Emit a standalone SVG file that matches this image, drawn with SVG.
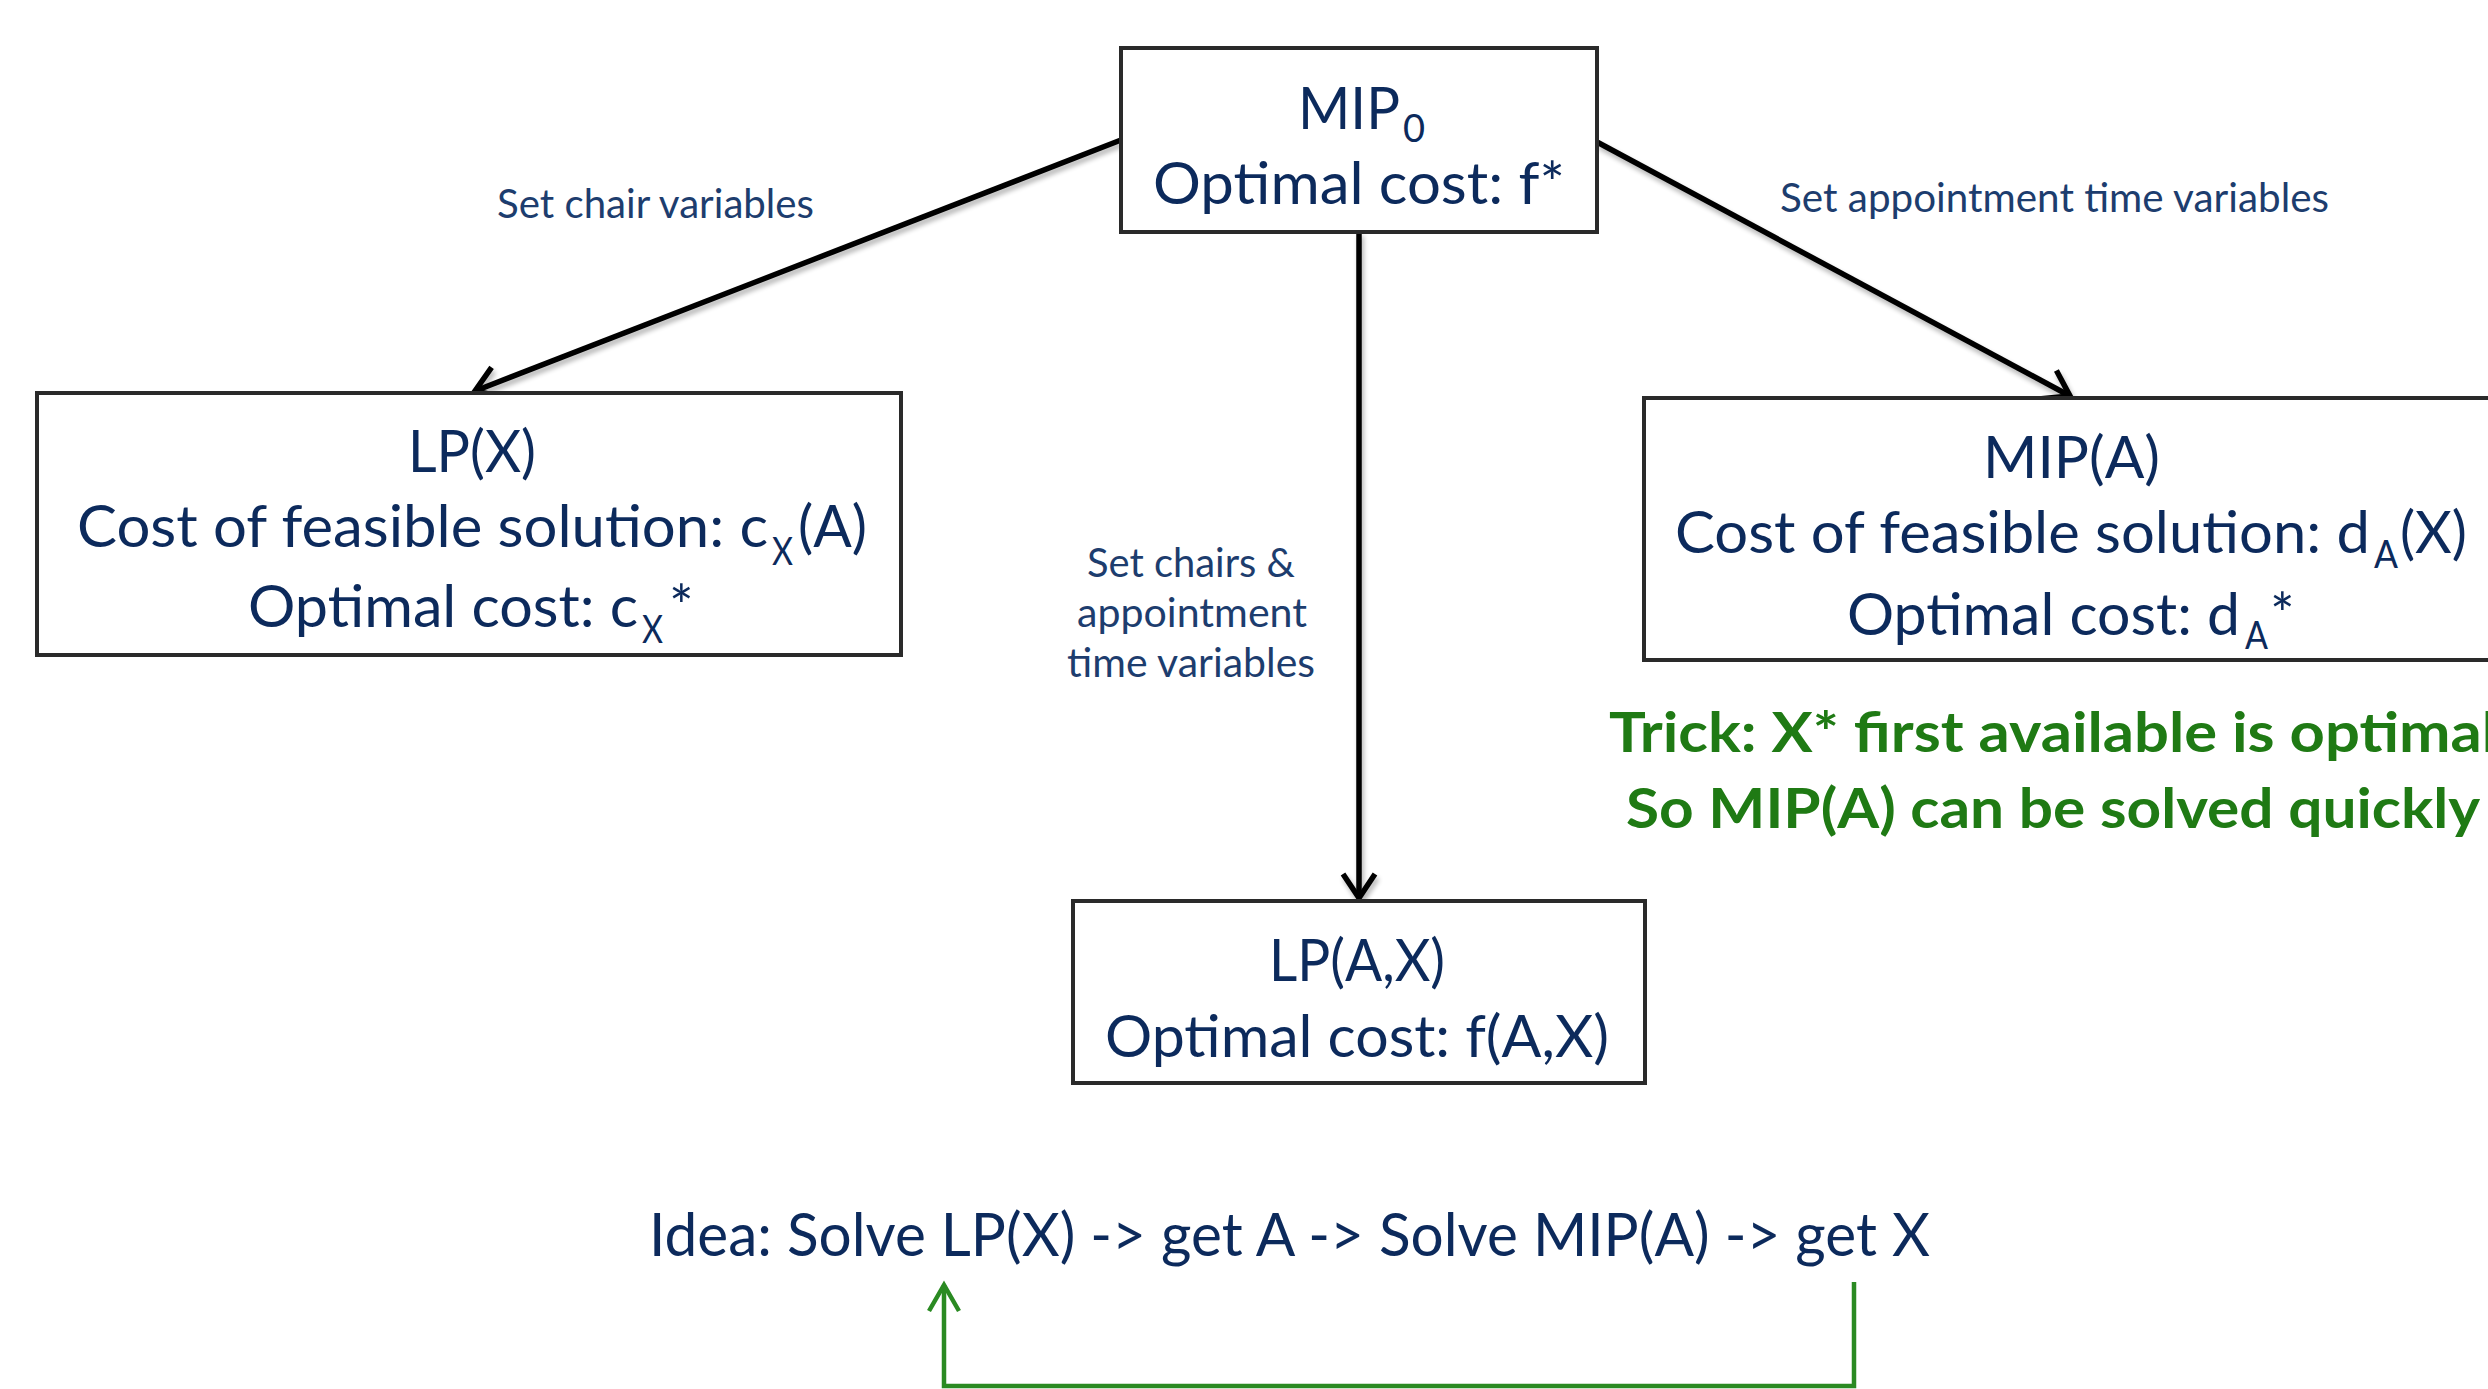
<svg xmlns="http://www.w3.org/2000/svg" width="2488" height="1389" viewBox="0 0 2488 1389">
  <style>
    .box { fill: #ffffff; stroke: #2a2a2a; stroke-width: 4; }
    .t { font-family: Lato, "Open Sans", "Liberation Sans", sans-serif; fill: #0c2a5c; font-size: 58px; }
    .sub { font-size: 38px; }
    .lbl { font-family: Lato, "Open Sans", "Liberation Sans", sans-serif; fill: #1d3d6e; font-size: 40px; }
    .g { font-family: Lato, "Open Sans", "Liberation Sans", sans-serif; fill: #1f7a14; font-size: 56px; font-weight: bold; }
    .conn { stroke: #000000; stroke-width: 5.5; fill: none; marker-end: url(#arr); filter: url(#sh); }
    .loop { stroke: #2a8a22; stroke-width: 4.5; fill: none; marker-end: url(#arrg); }
  </style>
  <defs>
    <filter id="sh" filterUnits="userSpaceOnUse" x="0" y="0" width="2488" height="1389">
      <feGaussianBlur in="SourceAlpha" stdDeviation="2.5"/>
      <feOffset dx="2" dy="4" result="b"/>
      <feComponentTransfer><feFuncA type="linear" slope="0.3"/></feComponentTransfer>
      <feMerge><feMergeNode/><feMergeNode in="SourceGraphic"/></feMerge>
    </filter>
    <marker id="arr" markerUnits="userSpaceOnUse" markerWidth="44" markerHeight="44" viewBox="0 0 44 44" refX="36" refY="22" orient="auto">
      <path d="M12,6 L36,22 L12,38" fill="none" stroke="#000000" stroke-width="5.5" stroke-linejoin="miter"/>
    </marker>
    <marker id="arrg" markerUnits="userSpaceOnUse" markerWidth="44" markerHeight="44" viewBox="0 0 44 44" refX="36" refY="22" orient="auto">
      <path d="M10,7 L36,22 L10,37" fill="none" stroke="#2a8a22" stroke-width="4.5" stroke-linejoin="miter"/>
    </marker>
  </defs>
  <rect width="2488" height="1389" fill="#ffffff"/>

  <g id="connectors">
    <line class="conn" x1="1121" y1="140" x2="475" y2="391"/>
    <line class="conn" x1="1597" y1="142" x2="2070" y2="396"/>
    <line class="conn" x1="1359" y1="232" x2="1359" y2="898"/>
    <polyline class="loop" points="1854,1282 1854,1386 944,1386 944,1285"/>
    <text class="lbl" x="497" y="218" textLength="317" lengthAdjust="spacingAndGlyphs">Set chair variables</text>
    <text class="lbl" x="1780" y="212" textLength="549" lengthAdjust="spacingAndGlyphs">Set appointment time variables</text>
    <text class="lbl" x="1087" y="577" textLength="208" lengthAdjust="spacingAndGlyphs">Set chairs &amp;</text>
    <text class="lbl" x="1077" y="627" textLength="230" lengthAdjust="spacingAndGlyphs">appointment</text>
    <text class="lbl" x="1067" y="677" textLength="248" lengthAdjust="spacingAndGlyphs">time variables</text>
  </g>

  <g id="node-mip0">
    <rect class="box" x="1121" y="48" width="476" height="184"/>
    <text class="t" x="1298" y="129" textLength="102" lengthAdjust="spacingAndGlyphs">MIP</text>
    <text class="t sub" x="1403" y="142">0</text>
    <text class="t" x="1153" y="204" textLength="412" lengthAdjust="spacingAndGlyphs">Optimal cost: f*</text>
  </g>

  <g id="node-lpx">
    <rect class="box" x="37" y="393" width="864" height="262"/>
    <text class="t" x="408" y="472" textLength="128" lengthAdjust="spacingAndGlyphs">LP(X)</text>
    <text class="t" x="77" y="547" textLength="691" lengthAdjust="spacingAndGlyphs">Cost of feasible solution: c</text>
    <text class="t sub" x="772" y="565" textLength="21" lengthAdjust="spacingAndGlyphs">X</text>
    <text class="t" x="798" y="547" textLength="69" lengthAdjust="spacingAndGlyphs">(A)</text>
    <text class="t" x="248" y="627" textLength="390" lengthAdjust="spacingAndGlyphs">Optimal cost: c</text>
    <text class="t sub" x="642" y="643" textLength="21" lengthAdjust="spacingAndGlyphs">X</text>
    <text class="t" x="669" y="627">*</text>
  </g>

  <g id="node-mipa">
    <rect class="box" x="1644" y="398" width="900" height="262"/>
    <text class="t" x="1983" y="478" textLength="177" lengthAdjust="spacingAndGlyphs">MIP(A)</text>
    <text class="t" x="1675" y="553" textLength="695" lengthAdjust="spacingAndGlyphs">Cost of feasible solution: d</text>
    <text class="t sub" x="2374" y="568" textLength="24" lengthAdjust="spacingAndGlyphs">A</text>
    <text class="t" x="2400" y="553" textLength="67" lengthAdjust="spacingAndGlyphs">(X)</text>
    <text class="t" x="1847" y="635" textLength="393" lengthAdjust="spacingAndGlyphs">Optimal cost: d</text>
    <text class="t sub" x="2245" y="649" textLength="23" lengthAdjust="spacingAndGlyphs">A</text>
    <text class="t" x="2270" y="635">*</text>
  </g>

  <g id="node-trick">
    <text class="g" x="1609" y="752" textLength="888" lengthAdjust="spacingAndGlyphs">Trick: X* first available is optimal</text>
    <text class="g" x="1626" y="828" textLength="854" lengthAdjust="spacingAndGlyphs">So MIP(A) can be solved quickly</text>
  </g>

  <g id="node-lpax">
    <rect class="box" x="1073" y="901" width="572" height="182"/>
    <text class="t" x="1269" y="981" textLength="176" lengthAdjust="spacingAndGlyphs">LP(A,X)</text>
    <text class="t" x="1105" y="1057" textLength="504" lengthAdjust="spacingAndGlyphs">Optimal cost: f(A,X)</text>
  </g>

  <g id="node-idea">
    <text class="t" x="649" y="1256" textLength="1281" lengthAdjust="spacingAndGlyphs" style="font-size:60px">Idea: Solve LP(X) -&gt; get A -&gt; Solve MIP(A) -&gt; get X</text>
  </g>
</svg>
